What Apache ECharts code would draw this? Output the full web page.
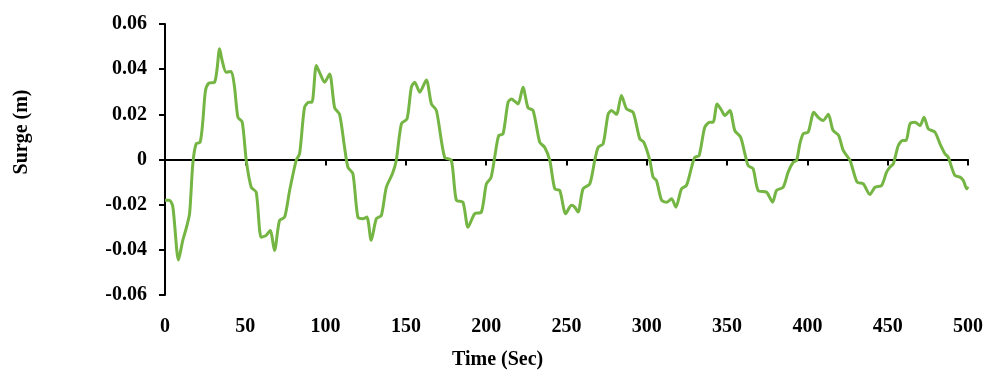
<!DOCTYPE html>
<html>
<head>
<meta charset="utf-8">
<script src="https://cdn.jsdelivr.net/npm/echarts@6/dist/echarts.min.js"></script>
<style>html,body{margin:0;padding:0;background:#fff;}#c{width:989px;height:380px;}</style>
</head>
<body>
<div id="c"></div>
<script>
const timeSec = [0,2.8,4.9,8.4,11,13.2,15.3,17.3,19.4,21.9,23.6,25.2,27.3,30.8,32.3,34,35.6,38.1,41.2,43.3,45.4,48.1,50.6,53.7,56.8,59.9,63,65.5,68.2,71.3,74.5,77.6,81.7,83.8,86.9,89.6,91.5,94.2,96.3,99.4,102.5,105.6,108.7,111.8,113.9,117,120.1,123.2,125.7,128.4,131.6,134.7,137.8,141.6,144,147.2,150.7,153.4,155.5,158.6,162.7,165.9,169,174.1,178.3,181.4,185.5,188.7,192.8,197,200.1,203,205.5,207.8,210.5,213.6,215.7,219.8,222.9,226,229.2,233.3,236.4,239.6,242.7,245.8,249.5,253.1,255.1,257.2,260.3,264.5,267.6,269.7,272.8,275.9,278,281.1,284.2,287.4,291.5,295.6,298.1,301.9,303.9,306,309.2,312.3,315.4,318.1,321.6,324.7,327.9,329.9,332.6,336.1,339.3,341.3,343.8,346.6,348.6,351.7,354.8,358.4,361.1,363.1,366.2,369.3,374.6,378.3,380.8,384.9,388,391.2,393.3,395.3,397.4,400.5,404,406.7,409.8,413,415.9,419.5,422.3,426.5,428.5,431,434.8,438.9,442.1,446.2,449.3,451.4,453.5,456.6,459.3,461.4,463.9,467,470.1,472.6,475.3,479.4,482.6,485.7,487.7,489.8,491.9,495,497.1,499.2,500];
const surgeM = [-0.018,-0.018,-0.021,-0.0445,-0.036,-0.0305,-0.024,-0.002,0.007,0.0077,0.0173,0.0305,0.0338,0.0342,0.0394,0.049,0.0438,0.0386,0.039,0.032,0.0187,0.0165,-0.0004,-0.0123,-0.0145,-0.0344,-0.0336,-0.0314,-0.0403,-0.027,-0.0255,-0.0137,-0.0004,0.0025,0.0231,0.0253,0.0253,0.0416,0.0385,0.0342,0.0379,0.023,0.02,0.0054,-0.0034,-0.0063,-0.0255,-0.0262,-0.0255,-0.0358,-0.0262,-0.0248,-0.0123,-0.0063,-0.0004,0.0158,0.018,0.032,0.0342,0.0298,0.0352,0.0246,0.0217,0.001,-0.0004,-0.018,-0.0189,-0.03,-0.024,-0.0233,-0.0108,-0.008,0.002,0.0106,0.0114,0.0253,0.0268,0.0246,0.032,0.023,0.0217,0.0077,0.0054,-0.0004,-0.013,-0.0137,-0.024,-0.0203,-0.0211,-0.0233,-0.013,-0.0108,-0.0004,0.0054,0.0069,0.02,0.0217,0.02,0.0283,0.0224,0.0209,0.0092,0.0077,-0.0004,-0.0078,-0.0093,-0.018,-0.0189,-0.0174,-0.0211,-0.013,-0.0115,-0.0034,0.001,0.0018,0.0143,0.0165,0.0165,0.0246,0.0217,0.0195,0.0217,0.0128,0.0099,0.0025,-0.0027,-0.0041,-0.0137,-0.0145,-0.0189,-0.0137,-0.0123,-0.0056,-0.0012,-0.0004,0.0069,0.0114,0.0121,0.0209,0.0187,0.0173,0.02,0.013,0.0106,0.004,-0.0004,-0.0049,-0.01,-0.0108,-0.0155,-0.0123,-0.0115,-0.0056,-0.0034,-0.0019,0.0062,0.0084,0.0084,0.0158,0.0165,0.015,0.0187,0.0136,0.0121,0.0069,0.0025,0.001,-0.0034,-0.0071,-0.0078,-0.0093,-0.013,-0.012];
const xTitle = 'Time (Sec)';
const yTitle = 'Surge (m)';

const font = "'Liberation Serif','Times New Roman',serif";
const pairs = timeSec.map((t, i) => [t, surgeM[i]]);
const chart = echarts.init(document.getElementById('c'), null, {renderer: 'canvas'});
chart.setOption({
  animation: false,
  grid: {left: 165, right: 21, top: 24, bottom: 85},
  xAxis: [
    {type: 'value', min: 0, max: 500, interval: 50, position: 'bottom',
     axisLine: {show: false, onZero: false}, axisTick: {show: false}, splitLine: {show: false},
     axisLabel: {margin: 22, color: '#000', fontFamily: font, fontWeight: 'bold', fontSize: 20}},
    {type: 'value', min: 0, max: 500, interval: 50, position: 'bottom',
     axisLine: {show: true, onZero: true, lineStyle: {color: '#000', width: 2}},
     axisTick: {show: true, length: 6, lineStyle: {color: '#000', width: 2}},
     axisLabel: {show: false}, splitLine: {show: false}}
  ],
  yAxis: {type: 'value', min: -0.06, max: 0.06, interval: 0.02,
    axisLine: {show: true, lineStyle: {color: '#000', width: 2}},
    axisTick: {show: true, length: 6, lineStyle: {color: '#000', width: 2}},
    splitLine: {show: false},
    axisLabel: {margin: 18, color: '#000', fontFamily: font, fontWeight: 'bold', fontSize: 20,
      formatter: v => (Math.abs(v) < 1e-9 ? '0' : v.toFixed(2))}},
  graphic: [
    {type: 'text', left: 452, top: 350, style: {text: xTitle, fill: '#000', font: "bold 20px " + font}},
    {type: 'text', x: 22, y: 132, rotation: Math.PI / 2,
     style: {text: yTitle, fill: '#000', font: "bold 20px " + font, textAlign: 'center', textVerticalAlign: 'middle'}}
  ],
  series: [{type: 'line', xAxisIndex: 1, data: pairs, showSymbol: false, smooth: 0.25,
    lineStyle: {color: '#74b544', width: 3}}]
});
</script>
</body>
</html>
